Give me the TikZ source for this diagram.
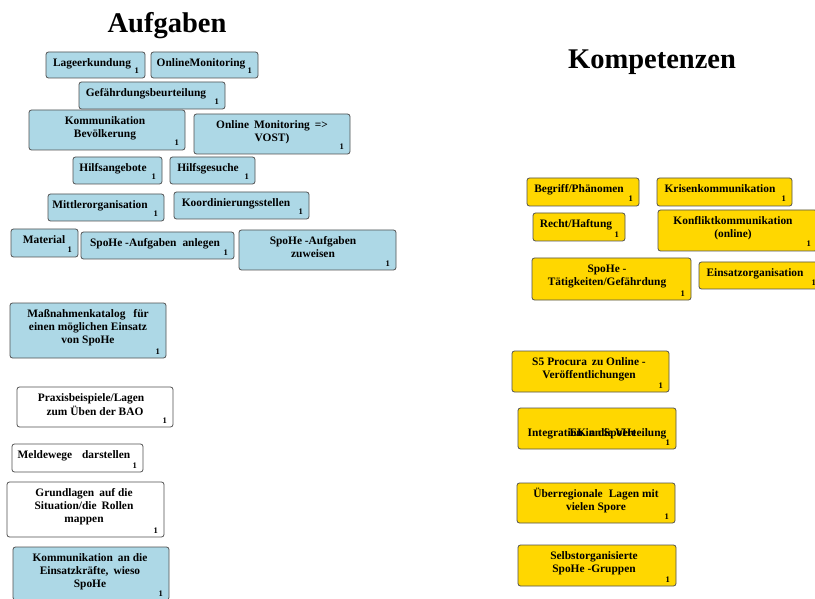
\documentclass[tikz,border=0pt]{standalone}
\usepackage{fontspec}
\setmainfont{Liberation Serif}
\definecolor{boxblue}{HTML}{ADD8E6}
\definecolor{boxgold}{HTML}{FFD700}
\definecolor{edgegray}{HTML}{505050}
\tikzset{
  boxbase/.style={draw=edgegray, line width=0.8pt, rounded corners=2.5pt, inner sep=0pt, outer sep=0pt},
  bluebox/.style={boxbase, fill=boxblue},
  whitebox/.style={boxbase, fill=white},
  goldbox/.style={boxbase, fill=boxgold},
  txt/.style={inner sep=0pt, align=center, font=\fontsize{11.4}{13}\selectfont\bfseries},
  num/.style={inner sep=0pt, font=\fontsize{8.5}{9}\selectfont\bfseries},
  title/.style={inner sep=0pt, font=\fontsize{28.5}{30}\selectfont\bfseries}
}
% name, x1, y1, x2, y2, style, text centre x, text
\newcommand\bx[8]{%
  \node[#6, minimum width={#4-#2}, minimum height={#5-#3}] (#1) at ({(#2+#4)/2},{(#3+#5)/2}) {};
  \node[txt, anchor=north] (#1-t) at (#7,#3+5) {\strut #8};
  \node[num, anchor=base east] (#1-n) at (#4-6,#5-4) {1};}
\begin{document}
\begin{tikzpicture}[x=1pt,y=-1pt]
\useasboundingbox (0,0) rectangle (815,599);
\begin{scope}
\clip (0,0) rectangle (815,599);
% titles
\node[title, anchor=base] (t1) at (167,33) {Aufgaben};
\node[title, anchor=base] (t2) at (652,69) {Kompetenzen};
% left: Aufgaben
\bx{lage}{46}{52}{145}{78}{bluebox}{92}{Lageerkundung}
\bx{onmon}{151}{52}{258}{78}{bluebox}{201}{OnlineMonitoring}
\bx{gefahr}{79}{82}{225}{109}{bluebox}{146}{Gefährdungsbeurteilung}
\bx{kombev}{29}{110}{185}{150}{bluebox}{105}{Kommunikation\\Bevölkerung}
\bx{vost}{194}{114}{350}{154}{bluebox}{272}{Online\hspace{5pt}Monitoring\hspace{5pt}=>\\VOST)}
\bx{hangeb}{73}{157}{162}{184}{bluebox}{113}{Hilfsangebote}
\bx{hges}{170}{157}{255}{184}{bluebox}{208}{Hilfsgesuche}
\bx{mittler}{48}{194}{164}{221}{bluebox}{100}{Mittlerorganisation}
\bx{koord}{174}{192}{309}{219}{bluebox}{236}{Koordinierungsstellen}
\bx{material}{11}{229}{78}{257}{bluebox}{44}{Material}
\bx{anlegen}{81}{232}{234}{259}{bluebox}{155}{SpoHe -Aufgaben\hspace{6pt}anlegen}
\bx{zuweisen}{239}{230}{396}{270}{bluebox}{313}{SpoHe -Aufgaben\\zuweisen}
\bx{katalog}{10}{303}{166}{358}{bluebox}{88}{Maßnahmenkatalog\hspace{8pt}für\\einen\hspace{3pt}möglichen\hspace{3pt}Einsatz\\von\hspace{3pt}SpoHe}
\bx{praxis}{17}{387}{173}{427}{whitebox}{91}{Praxisbeispiele/Lagen\\\hspace{8pt}zum\hspace{3pt}Üben\hspace{3pt}der BAO}
\bx{melde}{12}{444}{143}{472}{whitebox}{74}{Meldewege\hspace{10pt}darstellen}
\bx{grundl}{7}{482}{164}{537}{whitebox}{84}{Grundlagen\hspace{5pt}auf die\\Situation/die\hspace{5pt}Rollen\\mappen}
\bx{komeinsatz}{13}{547}{169}{600}{bluebox}{90}{Kommunikation\hspace{5pt}an die\\Einsatzkräfte,\hspace{5pt}wieso\\SpoHe}
% right: Kompetenzen
\bx{begriff}{527}{178}{639}{206}{goldbox}{579}{Begriff/Phänomen}
\bx{krise}{657}{178}{792}{206}{goldbox}{720}{Krisenkommunikation}
\bx{recht}{533}{213}{625}{241}{goldbox}{576}{Recht/Haftung}
\bx{konflikt}{658}{210}{817}{251}{goldbox}{733}{Konfliktkommunikation\\(online)}
\bx{taetig}{532}{258}{691}{300}{goldbox}{607}{SpoHe -\\Tätigkeiten/Gefährdung}
\bx{einsatzorg}{699}{262}{822}{289}{goldbox}{755}{Einsatzorganisation}
\bx{procura}{512}{351}{669}{392}{goldbox}{589}{S5\hspace{3pt}Procura\hspace{5pt}zu Online -\\Veröffentlichungen}
\node[goldbox, minimum width=158, minimum height=41] (integration) at (597,428.5) {};
\node[txt, anchor=base] (integration-a) at (597,436) {Integration in die Verteilung};
\node[txt, anchor=base] (integration-b) at (603,436) {EK an SpoHe};
\node[num, anchor=base east] (integration-n) at (670,445) {1};
\bx{ueberreg}{517}{483}{675}{523}{goldbox}{596}{Überregionale\hspace{6pt}Lagen\hspace{3pt}mit\\vielen\hspace{3pt}Spore}
\bx{selbst}{518}{545}{676}{586}{goldbox}{594}{Selbstorganisierte\\SpoHe -Gruppen}
\end{scope}
\end{tikzpicture}
\end{document}
